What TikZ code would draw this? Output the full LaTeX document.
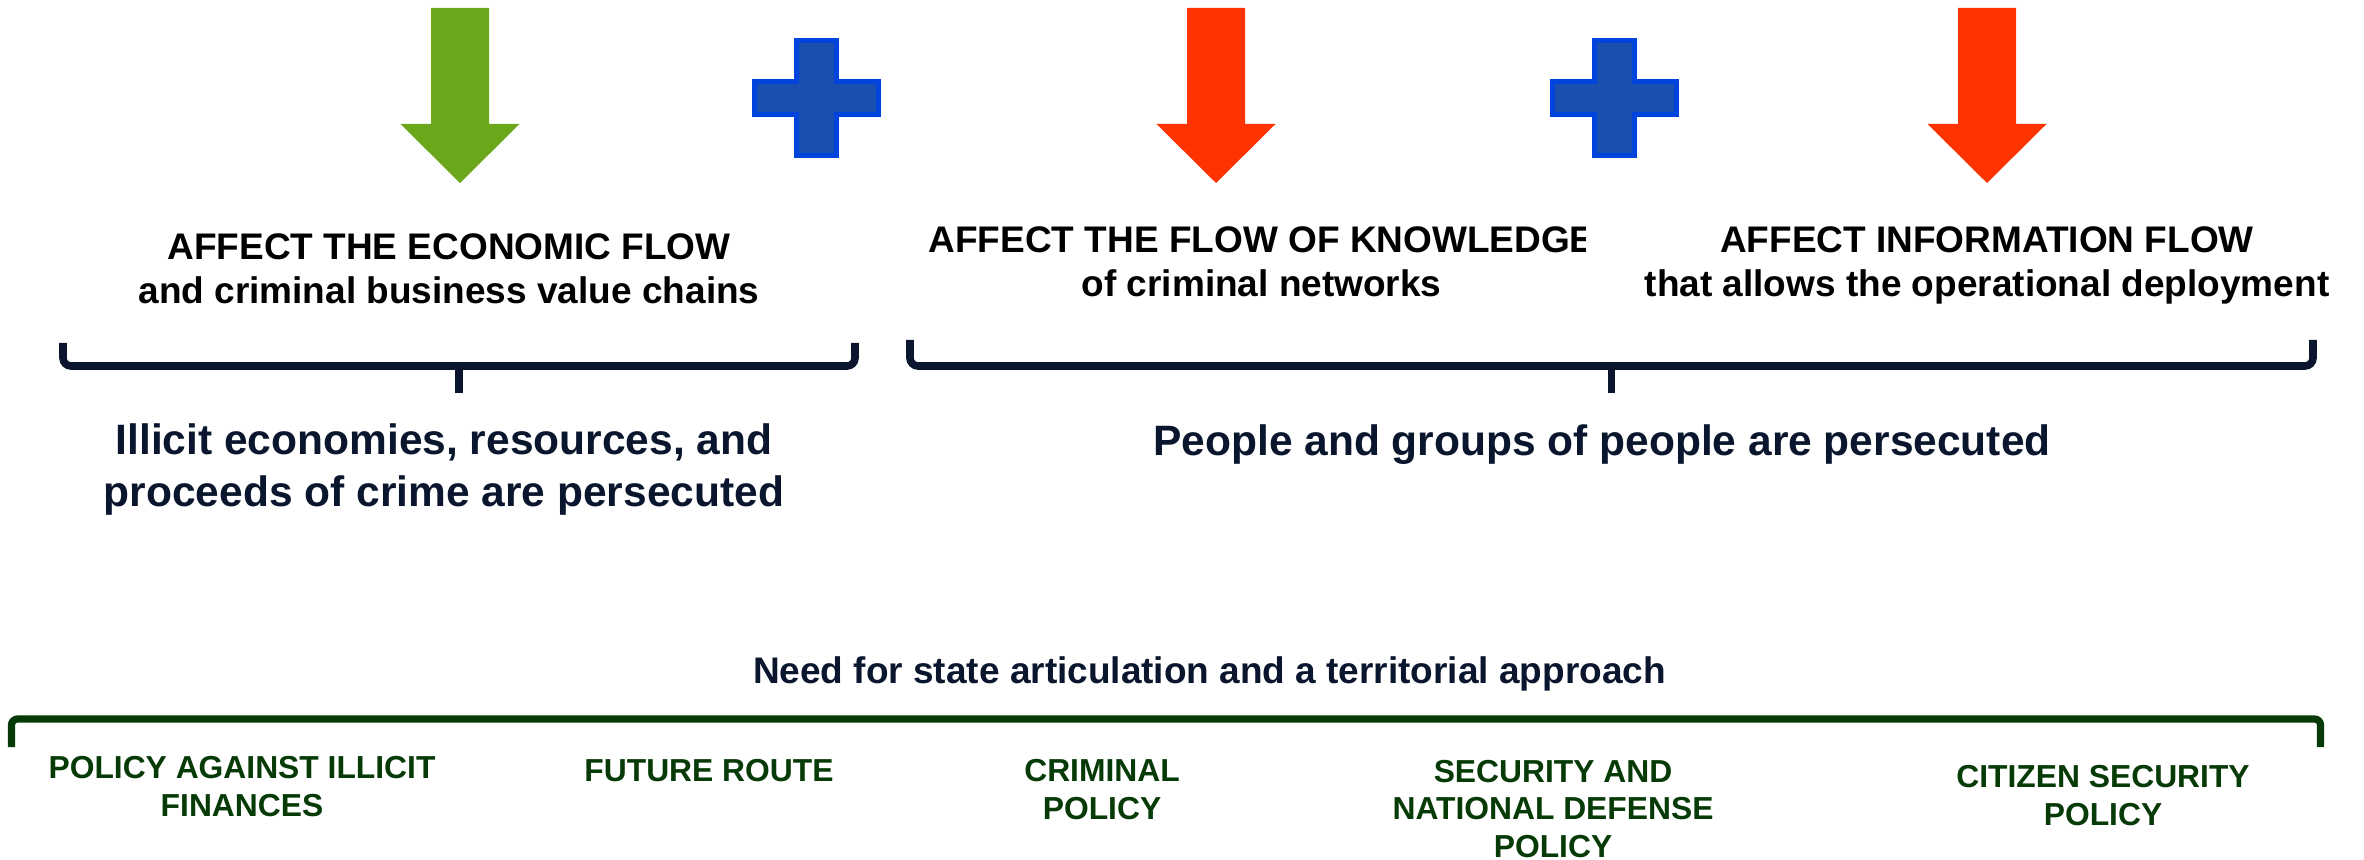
\documentclass[tikz,border=0pt]{standalone}
\usepackage{fontspec}
\setmainfont{Liberation Sans}
\usepackage{tikz}

\definecolor{econgreen}{RGB}{106,167,26}
\definecolor{flowred}{RGB}{255,51,0}
\definecolor{plusfill}{RGB}{26,79,176}
\definecolor{plusedge}{RGB}{0,68,221}
\definecolor{navy}{RGB}{10,22,45}
\definecolor{policygreen}{RGB}{6,58,6}

\tikzset{
  flowtitle/.style={anchor=base, align=center, inner sep=0pt, font=\bfseries\fontsize{18.5}{22}\selectfont},
  persecuted/.style={anchor=base, align=center, inner sep=0pt, text=navy, font=\bfseries\fontsize{21.25}{25.5}\selectfont},
  policy/.style={anchor=base, align=center, inner sep=0pt, text=policygreen, font=\bfseries\fontsize{15.9}{18.75}\selectfont},
  brace/.style={draw=navy, line width=3.8pt, rounded corners=4pt},
}

\begin{document}
\begin{tikzpicture}[x=0.5pt, y=-0.5pt]
  \useasboundingbox (0,0) rectangle (2364,860);
  % arrows and plus signs
  \foreach \x/\c in {460/econgreen, 1216/flowred, 1987/flowred}
    {\fill[\c] (\x-29,8) -- (\x+29,8) -- (\x+29,124) -- (\x+59.5,124) -- (\x,183) -- (\x-59.5,124) -- (\x-29,124) -- cycle;}
  \foreach \x in {816.5,1614.8}
    {\draw[plusedge, fill=plusfill, line width=2.5pt] (\x-20,40.5) -- (\x+20,40.5) -- (\x+20,81.5) -- (\x+62,81.5) -- (\x+62,114.5) -- (\x+20,114.5) -- (\x+20,155.5) -- (\x-20,155.5) -- (\x-20,114.5) -- (\x-62,114.5) -- (\x-62,81.5) -- (\x-20,81.5) -- cycle;}

  % base anchor sits on the last line
  \node[flowtitle] (econ) at (449,304) {AFFECT THE ECONOMIC FLOW\\and criminal business value chains};
  \begin{scope}
    \clip (0,0) rectangle (1585,400);
    \node[flowtitle] (knowledge) at (1261.6,297) {AFFECT THE FLOW OF KNOWLEDGE\\of criminal networks};
  \end{scope}
  \node[flowtitle] (info) at (1987,297) {AFFECT INFORMATION FLOW\\that allows the operational deployment};

  \draw[brace] (63,343) |- (459,366) coordinate (econtip) -| (855,343);
  \draw[brace] (econtip) -- ++(0,27);
  \draw[brace] (910,340) |- (1611.5,366) coordinate (peopletip) -| (2313,340);
  \draw[brace] (peopletip) -- ++(0,27);

  \node[persecuted] (illicit) at (444,506) {Illicit economies, resources, and\\proceeds of crime are persecuted};
  \node[persecuted] (people) at (1602,456) {People and groups of people are persecuted};

  \node[flowtitle, text=navy] (need) at (1209.5,683) {Need for state articulation and a territorial approach};
  \draw[policygreen, line width=3.6pt, rounded corners=3pt] (11.5,747) |- (2320.5,719) -- (2320.5,747);

  \node[policy] (finances) at (242,816) {POLICY AGAINST ILLICIT\\FINANCES};
  \node[policy] (route) at (709,781) {FUTURE ROUTE};
  \node[policy] (criminal) at (1102,819) {CRIMINAL\\POLICY};
  \node[policy] (defense) at (1553,857) {SECURITY AND\\NATIONAL DEFENSE\\POLICY};
  \node[policy] (citizen) at (2103,825) {CITIZEN SECURITY\\POLICY};
\end{tikzpicture}
\end{document}
